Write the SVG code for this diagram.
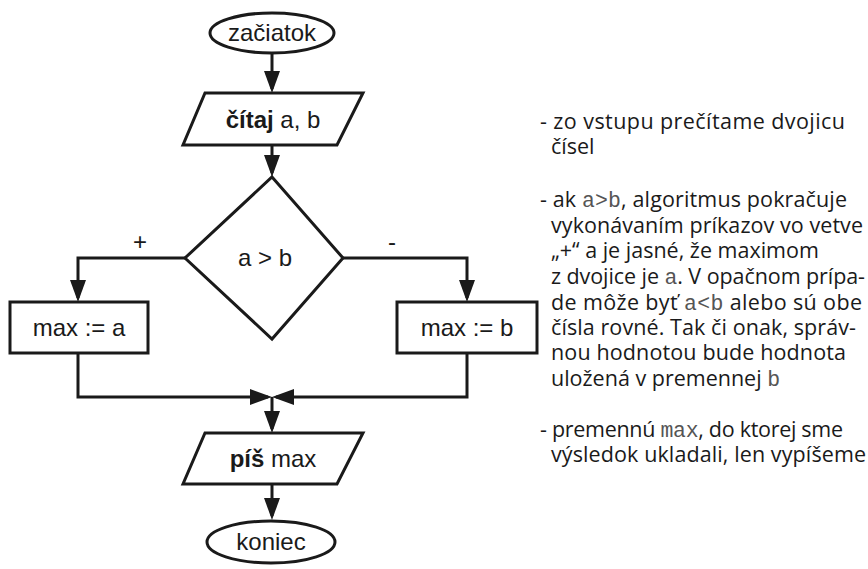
<svg xmlns="http://www.w3.org/2000/svg" width="868" height="569" viewBox="0 0 868 569">
  <style>
    .shape { fill: #ffffff; stroke: #1a1a1a; stroke-width: 3; }
    .wire { fill: none; stroke: #1a1a1a; stroke-width: 3; }
    .lbl { font-family: "Liberation Sans", Arial, sans-serif; font-size: 24px; fill: #1a1a1a; text-anchor: middle; }
    .b { font-weight: bold; }
    .note { font-family: "Open Sans", "Noto Sans", sans-serif; font-size: 21.5px; fill: #1a1a1a; }
    .code { font-family: "Liberation Mono", "Courier New", monospace; fill: #555555; }
  </style>
  <defs>
    <marker id="arrow" markerUnits="userSpaceOnUse" markerWidth="24" markerHeight="18" refX="18" refY="8" orient="auto">
      <path d="M0,0 L22,8 L0,16 z" fill="#1a1a1a"/>
    </marker>
  </defs>

  <rect width="868" height="569" fill="#ffffff"/>

  <!-- connectors -->
  <g id="connectors">
    <path class="wire" d="M272,53 L272,89" marker-end="url(#arrow)"/>
    <path class="wire" d="M272,145 L272,173" marker-end="url(#arrow)"/>
    <path class="wire" d="M185,258 L78,258 L78,298" marker-end="url(#arrow)"/>
    <path class="wire" d="M343,258 L467,258 L467,298" marker-end="url(#arrow)"/>
    <path class="wire" d="M78,353 L78,397 L268,397" marker-end="url(#arrow)"/>
    <path class="wire" d="M467,353 L467,397 L276,397" marker-end="url(#arrow)"/>
    <path class="wire" d="M272,397 L272,429" marker-end="url(#arrow)"/>
    <path class="wire" d="M272,484 L272,516" marker-end="url(#arrow)"/>
    <text class="lbl" x="140" y="250">+</text>
    <text class="lbl" x="392" y="250">-</text>
  </g>

  <!-- nodes -->
  <g id="start">
    <ellipse class="shape" cx="272" cy="33" rx="62" ry="20"/>
    <text class="lbl" x="272" y="41">začiatok</text>
  </g>
  <g id="read">
    <polygon class="shape" points="205,93 363,93 337,145 183,145"/>
    <text class="lbl" x="273" y="128"><tspan class="b">čítaj</tspan> a, b</text>
  </g>
  <g id="decision">
    <polygon class="shape" points="272,177 343,258 272,339 185,258"/>
    <text class="lbl" x="265" y="266">a &gt; b</text>
  </g>
  <g id="assign-a">
    <rect class="shape" x="10" y="302" width="138" height="51"/>
    <text class="lbl" x="79" y="336">max := a</text>
  </g>
  <g id="assign-b">
    <rect class="shape" x="397" y="302" width="140" height="51"/>
    <text class="lbl" x="467" y="336">max := b</text>
  </g>
  <g id="write">
    <polygon class="shape" points="205,433 363,433 337,484 183,484"/>
    <text class="lbl" x="273" y="467"><tspan class="b">píš</tspan> max</text>
  </g>
  <g id="end">
    <ellipse class="shape" cx="271" cy="542" rx="64" ry="21"/>
    <text class="lbl" x="271" y="550">koniec</text>
  </g>

  <!-- commentary -->
  <g id="notes">
    <text class="note" x="540" y="129" textLength="305" lengthAdjust="spacing">- zo vstupu prečítame dvojicu</text>
    <text class="note" x="551" y="154">čísel</text>
    <text class="note" x="540" y="207" textLength="307" lengthAdjust="spacing">- ak <tspan class="code">a&gt;b</tspan>, algoritmus pokračuje</text>
    <text class="note" x="551" y="233" textLength="312" lengthAdjust="spacing">vykonávaním príkazov vo vetve</text>
    <text class="note" x="551" y="258">„+“ a je jasné, že maximom</text>
    <text class="note" x="551" y="284" textLength="314" lengthAdjust="spacing">z dvojice je <tspan class="code">a</tspan>. V opačnom prípa-</text>
    <text class="note" x="551" y="310" textLength="311" lengthAdjust="spacing">de môže byť <tspan class="code">a&lt;b</tspan> alebo sú obe</text>
    <text class="note" x="551" y="335" textLength="305" lengthAdjust="spacing">čísla rovné. Tak či onak, správ-</text>
    <text class="note" x="551" y="360" textLength="295" lengthAdjust="spacing">nou hodnotou bude hodnota</text>
    <text class="note" x="551" y="386">uložená v premennej <tspan class="code">b</tspan></text>
    <text class="note" x="540" y="437" textLength="303" lengthAdjust="spacing">- premennú <tspan class="code">max</tspan>, do ktorej sme</text>
    <text class="note" x="551" y="462" textLength="315" lengthAdjust="spacing">výsledok ukladali, len vypíšeme</text>
  </g>
</svg>
